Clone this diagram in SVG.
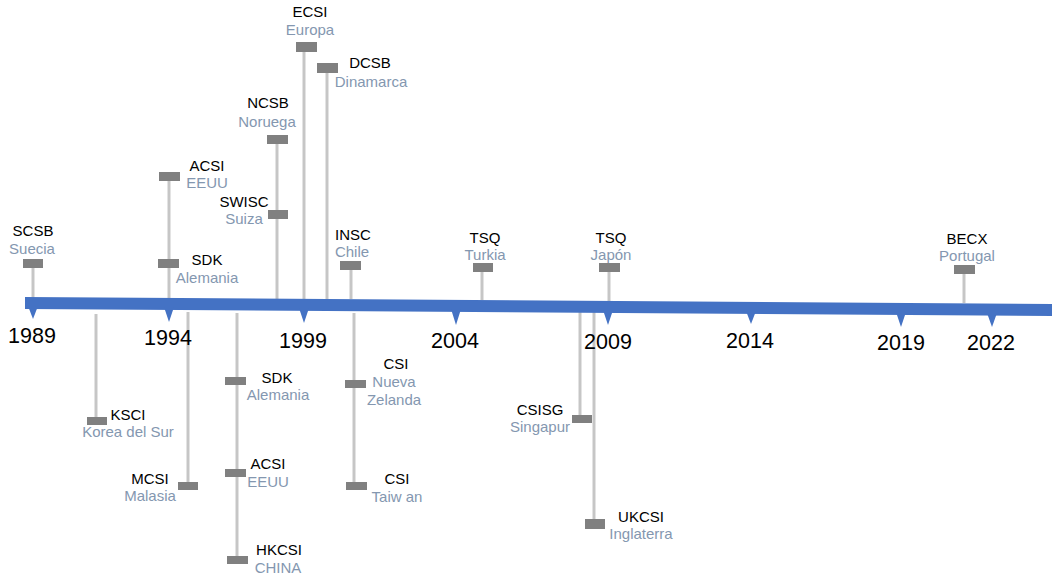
<svg xmlns="http://www.w3.org/2000/svg" width="1052" height="575" viewBox="0 0 1052 575">
<style>
.bg{fill:#ffffff}
.bar{fill:#4472c4}
.yr{font-family:"Liberation Sans",Arial,sans-serif;font-size:21.5px;fill:#000;text-anchor:middle}
.t{font-family:"Liberation Sans",Arial,sans-serif;font-size:15px;fill:#000;text-anchor:middle}
.c{font-family:"Liberation Sans",Arial,sans-serif;font-size:15px;fill:#8497b0;text-anchor:middle}
.mk{fill:#808080}
.ln{stroke:#c6c6c6;stroke-width:3;fill:none}
</style>
<rect class="bg" x="0" y="0" width="1052" height="575"/>
<g id="connectors">
<line class="ln" x1="33" y1="267" x2="33" y2="298"/>
<line class="ln" x1="169" y1="181" x2="169" y2="298"/>
<line class="ln" x1="277" y1="144" x2="277" y2="299"/>
<line class="ln" x1="304" y1="52" x2="304" y2="299"/>
<line class="ln" x1="327" y1="73" x2="327" y2="299"/>
<line class="ln" x1="351" y1="269" x2="351" y2="299"/>
<line class="ln" x1="482" y1="272" x2="482" y2="300"/>
<line class="ln" x1="609" y1="272" x2="609" y2="301"/>
<line class="ln" x1="964" y1="273" x2="964" y2="303"/>
<line class="ln" x1="96" y1="314" x2="96" y2="418"/>
<line class="ln" x1="188" y1="312" x2="188" y2="483"/>
<line class="ln" x1="237" y1="313" x2="237" y2="557"/>
<line class="ln" x1="354" y1="313" x2="354" y2="483"/>
<line class="ln" x1="580" y1="312" x2="580" y2="416"/>
<line class="ln" x1="594" y1="312" x2="594" y2="520"/>
</g>
<g id="timeline">
<polygon class="bar" points="25,297 1052,304 1052,316 25,309"/>
<polygon class="bar" points="28,306 38,306 33,319"/>
<polygon class="bar" points="164,307 174,307 169,322"/>
<polygon class="bar" points="299,308 309,308 304,323"/>
<polygon class="bar" points="451,309 461,309 456,325"/>
<polygon class="bar" points="603,310 613,310 608,325"/>
<polygon class="bar" points="746,311 756,311 751,324"/>
<polygon class="bar" points="896,312 906,312 901,327"/>
<polygon class="bar" points="987,313 997,313 992,327"/>
<text class="yr" x="32" y="343">1989</text>
<text class="yr" x="168" y="345">1994</text>
<text class="yr" x="303" y="348">1999</text>
<text class="yr" x="455" y="348">2004</text>
<text class="yr" x="608" y="349">2009</text>
<text class="yr" x="750" y="348">2014</text>
<text class="yr" x="901" y="350">2019</text>
<text class="yr" x="991" y="350">2022</text>
</g>
<g id="scsb"><rect class="mk" x="23" y="259" width="20" height="9"/><text class="t" x="33" y="236">SCSB</text><text class="c" x="32" y="254">Suecia</text></g>
<g id="acsi-eeuu-up"><rect class="mk" x="159" y="172" width="21" height="9"/><text class="t" x="207" y="171">ACSI</text><text class="c" x="207" y="188">EEUU</text></g>
<g id="sdk-alemania-up"><rect class="mk" x="158" y="259" width="21" height="9"/><text class="t" x="207" y="265">SDK</text><text class="c" x="207" y="283">Alemania</text></g>
<g id="ncsb"><rect class="mk" x="267" y="135" width="21" height="9"/><text class="t" x="268" y="108">NCSB</text><text class="c" x="267" y="127">Noruega</text></g>
<g id="swisc"><rect class="mk" x="268" y="210" width="20" height="9"/><text class="t" x="244" y="207">SWISC</text><text class="c" x="244" y="224">Suiza</text></g>
<g id="ecsi"><rect class="mk" x="296" y="42" width="21" height="10"/><text class="t" x="310" y="17">ECSI</text><text class="c" x="310" y="35">Europa</text></g>
<g id="dcsb"><rect class="mk" x="317" y="63" width="21" height="10"/><text class="t" x="370" y="68">DCSB</text><text class="c" x="371" y="87">Dinamarca</text></g>
<g id="insc"><rect class="mk" x="340" y="261" width="21" height="9"/><text class="t" x="353" y="240">INSC</text><text class="c" x="352" y="257">Chile</text></g>
<g id="tsq-turkia"><rect class="mk" x="473" y="263" width="20" height="9"/><text class="t" x="485" y="243">TSQ</text><text class="c" x="485" y="260">Turkia</text></g>
<g id="tsq-japon"><rect class="mk" x="599" y="263" width="21" height="9"/><text class="t" x="611" y="243">TSQ</text><text class="c" x="611" y="260">Japón</text></g>
<g id="becx"><rect class="mk" x="954" y="265" width="21" height="9"/><text class="t" x="967" y="244">BECX</text><text class="c" x="967" y="261">Portugal</text></g>
<g id="ksci"><rect class="mk" x="87" y="417" width="20" height="8"/><text class="t" x="128" y="420">KSCI</text><text class="c" x="128" y="437">Korea del Sur</text></g>
<g id="mcsi"><rect class="mk" x="178" y="482" width="20" height="8"/><text class="t" x="150" y="484">MCSI</text><text class="c" x="150" y="501">Malasia</text></g>
<g id="sdk-alemania-down"><rect class="mk" x="225" y="377" width="21" height="8"/><text class="t" x="277" y="383">SDK</text><text class="c" x="278" y="400">Alemania</text></g>
<g id="acsi-eeuu-down"><rect class="mk" x="225" y="469" width="21" height="8"/><text class="t" x="268" y="469">ACSI</text><text class="c" x="268" y="487">EEUU</text></g>
<g id="hkcsi"><rect class="mk" x="227" y="556" width="21" height="8"/><text class="t" x="279" y="555">HKCSI</text><text class="c" x="278" y="573">CHINA</text></g>
<g id="csi-nz"><rect class="mk" x="345" y="380" width="21" height="8"/><text class="t" x="396" y="369">CSI</text><text class="c" x="394" y="387">Nueva</text><text class="c" x="394" y="405">Zelanda</text></g>
<g id="csi-tw"><rect class="mk" x="346" y="482" width="21" height="8"/><text class="t" x="397" y="484">CSI</text><text class="c" x="397" y="502">Taiw an</text></g>
<g id="csisg"><rect class="mk" x="572" y="415" width="20" height="8"/><text class="t" x="540" y="415">CSISG</text><text class="c" x="540" y="432">Singapur</text></g>
<g id="ukcsi"><rect class="mk" x="585" y="519" width="20" height="10"/><text class="t" x="641" y="522">UKCSI</text><text class="c" x="641" y="539">Inglaterra</text></g>
</svg>
